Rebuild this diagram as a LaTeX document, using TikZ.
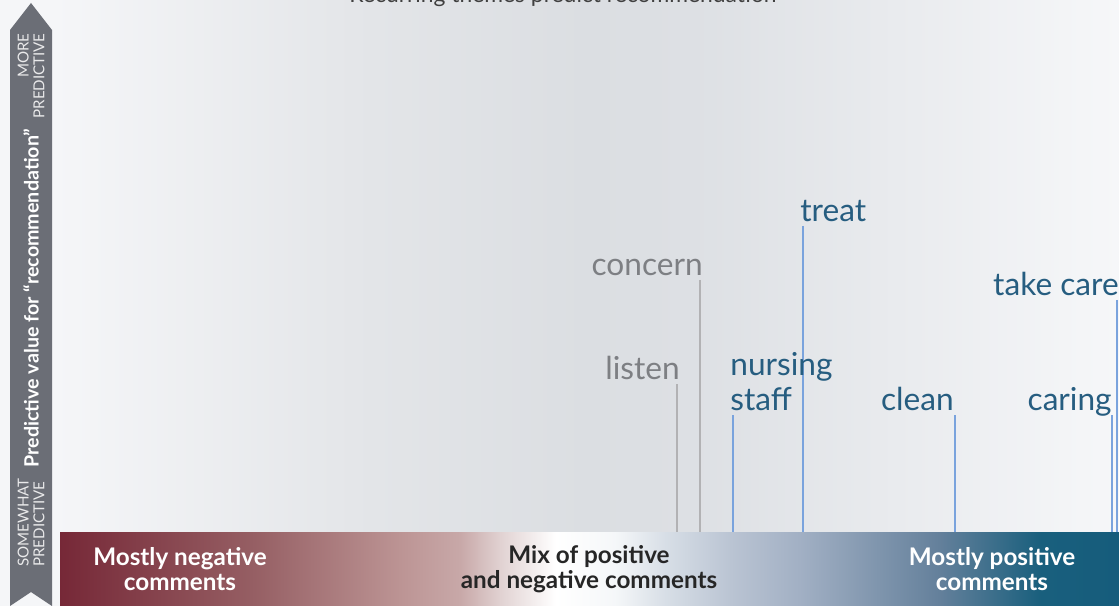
\documentclass[tikz,border=0pt]{standalone}
\usepackage{fontspec}
\setmainfont{Lato}
\usetikzlibrary{positioning}
\pgfdeclarelayer{bglayer}
\pgfdeclarelayer{edgelayer}
\pgfdeclarelayer{nodelayer}
\pgfsetlayers{bglayer,edgelayer,nodelayer,main}
\definecolor{arrowgray}{RGB}{107,110,118}
\definecolor{pale}{RGB}{245,246,248}
\definecolor{neutraltext}{RGB}{125,127,131}
\definecolor{positivetext}{RGB}{38,93,128}
\definecolor{neutralline}{RGB}{178,178,180}
\definecolor{positiveline}{RGB}{122,163,221}
\pgfdeclarehorizontalshading{plotback}{100bp}{%
  rgb(0bp)=(0.961,0.965,0.973);
  rgb(25bp)=(0.961,0.965,0.973);
  rgb(40bp)=(0.890,0.898,0.910);
  rgb(50bp)=(0.859,0.871,0.886);
  rgb(55bp)=(0.867,0.878,0.894);
  rgb(75bp)=(0.965,0.969,0.976);
  rgb(100bp)=(0.965,0.969,0.976)}
\pgfdeclarehorizontalshading{commentbar}{100bp}{%
  rgb(0bp)=(0.463,0.157,0.216);
  rgb(25bp)=(0.463,0.157,0.216);
  rgb(34.2bp)=(0.588,0.373,0.392);
  rgb(41.05bp)=(0.737,0.580,0.580);
  rgb(43.9bp)=(0.784,0.659,0.659);
  rgb(45.8bp)=(0.882,0.824,0.824);
  rgb(48.4bp)=(1,1,1);
  rgb(51.2bp)=(0.961,0.969,0.976);
  rgb(53.6bp)=(0.843,0.871,0.902);
  rgb(56.8bp)=(0.725,0.765,0.824);
  rgb(59.9bp)=(0.635,0.690,0.769);
  rgb(66.5bp)=(0.392,0.502,0.608);
  rgb(71.3bp)=(0.098,0.373,0.490);
  rgb(75bp)=(0.086,0.361,0.486);
  rgb(100bp)=(0.086,0.361,0.486)}
\tikzstyle{none}=[inner sep=0pt]
\tikzstyle{theme}=[inner sep=0pt, text depth=0.22em, font=\fontsize{18}{20}\selectfont]
\tikzstyle{neutral}=[theme, text=neutraltext]
\tikzstyle{positive}=[theme, text=positivetext, align=left]
\tikzstyle{neutralstem}=[draw=neutralline, line width=0.75pt]
\tikzstyle{positivestem}=[draw=positiveline, line width=0.75pt]
\tikzstyle{barlabel}=[inner sep=0pt, align=center, font=\bfseries\fontsize{13.8}{14.4}\selectfont]
\tikzstyle{axislabel}=[inner sep=0pt, rotate=90, text=white!85!arrowgray, font=\fontsize{8.6}{9}\selectfont]

\begin{document}
\begin{tikzpicture}[x=0.2mm, y=-0.2mm]
	\useasboundingbox (0,0) rectangle (1119,606);
	\clip (0,0) rectangle (1119,606);
	\begin{pgfonlayer}{bglayer}
		\fill [pale] (0,0) rectangle (1119,606);
		\shade [shading=plotback] (52,0) rectangle (1119,532);
		\shade [shading=commentbar] (60,532) rectangle (1119,606);
		% axis arrow
		\fill [arrowgray] (10,30) -- (31,3) -- (52,30) -- (52,606) -- (31,592) -- (10,606) -- cycle;
	\end{pgfonlayer}
	\begin{pgfonlayer}{nodelayer}
		\node [style=none, text=black!75, font=\fontsize{13}{15}\selectfont, anchor=base] (title) at (563,3) {Recurring themes predict recommendation};
		\node [style=axislabel, align=right, anchor=east] (more) at (31,33) {MORE\\PREDICTIVE};
		\node [style=axislabel, align=left, anchor=west] (somewhat) at (31,567) {SOMEWHAT\\PREDICTIVE};
		\node [style=none, rotate=90, text=white, font=\bfseries\fontsize{11.2}{13}\selectfont] (axis) at (31,298) {Predictive value for “recommendation”};
		\node [style=neutral, anchor=south east] (listen) at (680,384) {listen};
		\node [style=neutral, anchor=south east] (concern) at (703,280) {concern};
		\node [style=positive, anchor=south west] (nursing) at (730,415) {nursing\\staff};
		\node [style=positive, anchor=south west] (treat) at (800,226) {treat};
		\node [style=positive, anchor=south east] (clean) at (954,415) {clean};
		\node [style=positive, anchor=south east] (caring) at (1112,415) {caring};
		\node [style=positive, anchor=south east] (takecare) at (1119,300) {take care};
		\node [style=barlabel, text=white] (negative) at (180,569) {Mostly negative\\comments};
		\node [style=barlabel, text=black!85] (mixed) at (589,569) {Mix of positive\\and negative comments};
		\node [style=barlabel, text=white] (positive) at (992,569) {Mostly positive\\comments};
	\end{pgfonlayer}
	\begin{pgfonlayer}{edgelayer}
		\coordinate (listen-foot) at (677,532);
		\coordinate (concern-foot) at (700,532);
		\coordinate (nursing-foot) at (733,532);
		\coordinate (treat-foot) at (803,532);
		\coordinate (clean-foot) at (955,532);
		\coordinate (caring-foot) at (1112,532);
		\coordinate (takecare-foot) at (1117,532);
		\draw [style=neutralstem] (listen-foot |- listen.south) -- (listen-foot);
		\draw [style=neutralstem] (concern-foot |- concern.south) -- (concern-foot);
		\draw [style=positivestem] (nursing-foot |- nursing.south) -- (nursing-foot);
		\draw [style=positivestem] (treat-foot |- treat.south) -- (treat-foot);
		\draw [style=positivestem] (clean-foot |- clean.south) -- (clean-foot);
		\draw [style=positivestem] (caring-foot |- caring.south) -- (caring-foot);
		\draw [style=positivestem] (takecare-foot |- takecare.south) -- (takecare-foot);
	\end{pgfonlayer}
\end{tikzpicture}
\end{document}
